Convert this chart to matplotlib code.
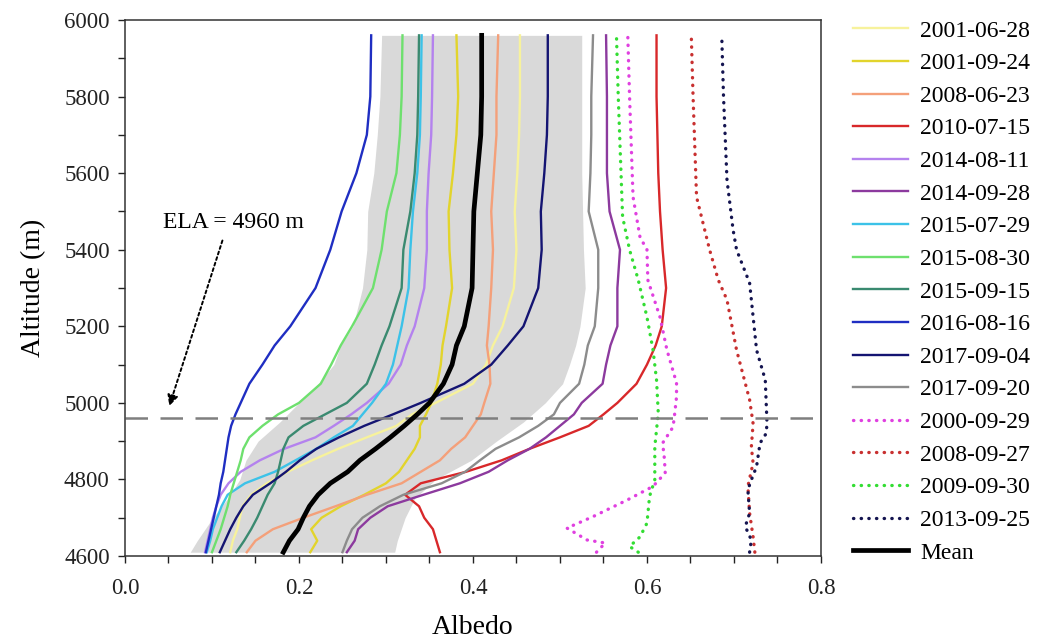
import matplotlib
matplotlib.use("Agg")
import matplotlib.pyplot as plt
from matplotlib.ticker import MultipleLocator, FormatStrFormatter

plt.rcParams['font.family'] = 'Liberation Serif'

# altitude grid (m) shared by the solid profiles
alt = [4610, 4640, 4670, 4700, 4730, 4760, 4790, 4820, 4850, 4880, 4910, 4940, 4970,
       5000, 5050, 5100, 5150, 5200, 5300, 5400, 5500, 5600, 5700, 5800, 5960]

alb_20010628 = [.121, .124, .129, .132, .135, .145, .163, .187, .215, .245, .278, .312, .330,
                .357, .400, .415, .423, .434, .447, .450, .448, .451, .453, .454, .454]
alb_20010924 = [.213, .221, .214, .226, .248, .275, .300, .315, .324, .333, .339, .339, .346,
                .352, .359, .363, .365, .369, .376, .373, .372, .377, .381, .383, .381]
alb_20080623 = [.140, .150, .170, .205, .242, .278, .318, .340, .362, .375, .391, .400, .409,
                .413, .420, .419, .416, .418, .421, .423, .421, .424, .427, .427, .429]
alb_20100715 = [.362, .358, .354, .344, .338, .322, .340, .392, .433, .465, .500, .533, .550,
                .566, .588, .600, .610, .617, .622, .618, .615, .613, .612, .611, .611]
alb_20140811 = [.092, .095, .098, .101, .105, .110, .119, .133, .155, .183, .219, .240, .260,
                .278, .303, .317, .324, .333, .344, .347, .347, .349, .352, .353, .354]
alb_20140928 = [.255, .264, .268, .282, .302, .343, .385, .418, .440, .465, .484, .500, .516,
                .525, .549, .553, .558, .566, .566, .569, .557, .554, .554, .554, .553]
alb_20150729 = [.094, .098, .101, .106, .111, .118, .138, .172, .196, .220, .240, .262, .273,
                .284, .300, .308, .313, .318, .326, .328, .331, .336, .339, .340, .341]
alb_20150830 = [.100, .105, .110, .114, .118, .121, .125, .129, .133, .136, .143, .158, .176,
                .200, .225, .237, .248, .261, .285, .295, .301, .312, .316, .318, .319]
alb_20150915 = [.128, .137, .145, .152, .158, .164, .172, .176, .179, .182, .188, .205, .230,
                .255, .278, .287, .295, .304, .318, .320, .328, .333, .336, .337, .338]
alb_20160816 = [.093, .096, .099, .102, .105, .108, .110, .113, .115, .117, .119, .122, .127,
                .133, .143, .158, .172, .190, .219, .236, .249, .266, .278, .282, .283]
alb_20170904 = [.109, .115, .121, .128, .136, .147, .167, .185, .201, .220, .246, .275, .308,
                .340, .390, .421, .440, .458, .475, .479, .478, .482, .485, .486, .486]
alb_20170920 = [.250, .255, .261, .273, .293, .320, .364, .391, .408, .426, .453, .475, .493,
                .500, .522, .528, .532, .540, .544, .544, .533, .535, .536, .536, .538]
alb_mean = [.182, .189, .199, .205, .212, .222, .236, .256, .270, .288, .305, .321, .336,
            .350, .366, .376, .381, .390, .399, .400, .401, .405, .409, .410, .410]

# dotted profiles, each with its own altitudes
alt_20000929 = [4610, 4634, 4642, 4673, 4703, 4746, 4782, 4817, 4855, 4895, 4937, 4974, 5016,
                5052, 5138, 5224, 5321, 5400, 5433, 5538, 5800, 5956]
alb_20000929 = [.542, .552, .531, .508, .538, .577, .607, .621, .620, .618, .630, .632, .634,
                .634, .623, .615, .601, .600, .592, .584, .580, .578]
alt_20080927 = [4610, 4650, 4712, 4782, 4843, 4885, 4946, 5008, 5138, 5269, 5321, 5400, 5538,
                5800, 5956]
alb_20080927 = [.724, .722, .718, .716, .722, .720, .722, .718, .703, .692, .682, .672, .657,
                .653, .651]
alt_20090930 = [4610, 4625, 4650, 4686, 4756, 4799, 4885, 4974, 5060, 5138, 5224, 5321, 5400,
                5486, 5800, 5956]
alb_20090930 = [.590, .580, .592, .600, .603, .609, .609, .613, .611, .607, .600, .590, .580,
                .572, .567, .565]
alt_20130925 = [4610, 4642, 4677, 4712, 4773, 4799, 4834, 4895, 4920, 4946, 5060, 5138, 5313,
                5400, 5452, 5582, 5800, 5956]
alb_20130925 = [.718, .720, .713, .718, .716, .720, .726, .730, .737, .738, .736, .726, .718,
                .703, .699, .692, .688, .686]

# grey envelope
shade_alt = [4610, 4640, 4700, 4750, 4800, 4850, 4900, 4950, 5000, 5050, 5100, 5150, 5200,
             5300, 5400, 5500, 5600, 5700, 5800, 5960]
shade_lo = [.075, .083, .101, .118, .132, .139, .153, .178, .200, .222, .240, .248, .262,
            .273, .278, .279, .286, .290, .293, .295]
shade_hi = [.310, .313, .322, .333, .357, .398, .427, .458, .483, .503, .511, .518, .523,
            .529, .527, .526, .525, .525, .525, .525]

ela = 4960

solid = [
    ("2001-06-28", alb_20010628, "#f7f29c"),
    ("2001-09-24", alb_20010924, "#e2d42c"),
    ("2008-06-23", alb_20080623, "#f4a07a"),
    ("2010-07-15", alb_20100715, "#d8282a"),
    ("2014-08-11", alb_20140811, "#b482ee"),
    ("2014-09-28", alb_20140928, "#8c3a9e"),
    ("2015-07-29", alb_20150729, "#3cc2e8"),
    ("2015-08-30", alb_20150830, "#6ee06e"),
    ("2015-09-15", alb_20150915, "#3a8a70"),
    ("2016-08-16", alb_20160816, "#1f2ec2"),
    ("2017-09-04", alb_20170904, "#141472"),
    ("2017-09-20", alb_20170920, "#8c8c8c"),
]
dotted = [
    ("2000-09-29", alt_20000929, alb_20000929, "#e040e0"),
    ("2008-09-27", alt_20080927, alb_20080927, "#c83030"),
    ("2009-09-30", alt_20090930, alb_20090930, "#33dd33"),
    ("2013-09-25", alt_20130925, alb_20130925, "#141450"),
]

fig = plt.figure(figsize=(10.45, 6.44), dpi=100)
ax = fig.add_axes([0.1196, 0.1366, 0.6660, 0.8323])

ax.fill_betweenx(shade_alt, shade_lo, shade_hi, color="#d9d9d9", lw=0, zorder=1)

for name, a, c in solid:
    ax.plot(a, alt, color=c, lw=1.7, label=name, zorder=2)
for name, h, a, c in dotted:
    ax.plot(a, h, color=c, lw=2.4, ls=(0, (0.1, 2.2)), dash_capstyle="round",
            label=name, zorder=2)
ax.plot(alb_mean, alt, color="black", lw=3.4, label="Mean", zorder=3)

ax.axhline(ela, color="#7f7f7f", lw=1.8, dashes=(9, 5), zorder=2.5)

ax.text(0.044, 5472, "ELA = 4960 m", fontsize=17, va="center", ha="left")
ax.annotate("", xy=(0.050, 4985), xytext=(0.113, 5431),
            arrowprops=dict(arrowstyle="-|>", ls=(0, (1.5, 1.5)), lw=1.4,
                            color="black", mutation_scale=16))

ax.set_xlim(0, 0.8)
ax.set_ylim(4600, 6000)
ax.xaxis.set_major_locator(MultipleLocator(0.2))
ax.xaxis.set_minor_locator(MultipleLocator(0.05))
ax.xaxis.set_major_formatter(FormatStrFormatter("%.1f"))
ax.yaxis.set_major_locator(MultipleLocator(200))
ax.yaxis.set_minor_locator(MultipleLocator(100))
ax.tick_params(which="both", direction="out", length=5, width=1, colors="#222222",
               labelsize=16.5)
ax.tick_params(axis="y", pad=6)
ax.tick_params(axis="x", pad=11)
for s in ax.spines.values():
    s.set_linewidth(1.1)
    s.set_color("#333333")

ax.set_xlabel("Albedo", fontsize=20, labelpad=11)
ax.set_ylabel("Altitude (m)", fontsize=20, labelpad=13)

ax.legend(loc="upper left", bbox_to_anchor=(1.046, 1.0), frameon=False, fontsize=17,
          handlelength=2.35, handletextpad=0.5, labelspacing=0.47, borderpad=0,
          borderaxespad=0)

fig.savefig("out.png", dpi=100)
